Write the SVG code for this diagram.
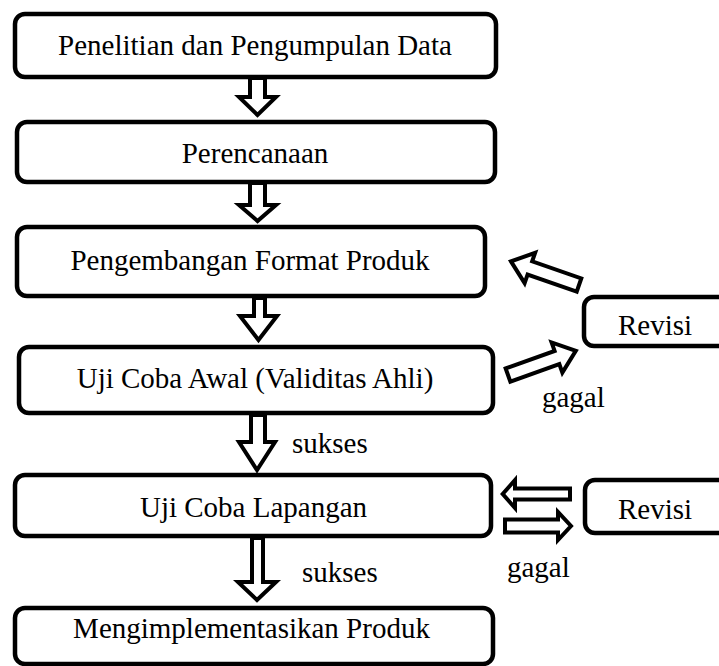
<svg xmlns="http://www.w3.org/2000/svg" width="719" height="666" viewBox="0 0 719 666">
<style>
.box{fill:#fff;stroke:#000;stroke-width:4.5}
.arr{fill:#fff;stroke:#000;stroke-width:4;stroke-linejoin:miter;stroke-miterlimit:10}
text{font-family:"Liberation Serif","Times New Roman",serif;font-size:29px;fill:#000}
.c{text-anchor:middle}
</style>
<rect width="719" height="666" fill="#fff"/>
<g id="connectors">
<path class="arr" d="M250,78 V97 H239 L257.5,115 L276,97 H265 V78 Z"/>
<path class="arr" d="M250,183 V205 H239 L257.5,221 L276,205 H265 V183 Z"/>
<path class="arr" d="M254,298 V316 H240 L258.5,340 L277,316 H265 V298 Z"/>
<path class="arr" d="M251,415 V442 H239 L257,470 L275,442 H265 V415 Z"/>
<path class="arr" d="M252,538 V582 H238 L257,600 L276,582 H263 V538 Z"/>
<path class="arr" transform="translate(579,285) rotate(199.15)" d="M0,-7 L52,-7 L52,-16 L72,0 L52,16 L52,7 L0,7 Z"/>
<path class="arr" transform="translate(508,375) rotate(-19.65)" d="M0,-7 L52,-7 L52,-16 L72,0 L52,16 L52,7 L0,7 Z"/>
<path class="arr" d="M570,488.5 L515,488.5 L515,480 L502.7,494 L515,508 L515,499.5 L570,499.5 Z"/>
<path class="arr" d="M505,519.5 L558,519.5 L558,512 L571,526 L558,540 L558,532.5 L505,532.5 Z"/>
<text x="292" y="453">sukses</text>
<text x="302" y="582">sukses</text>
<text x="542" y="407">gagal</text>
<text x="507" y="577">gagal</text>
</g>
<g id="n1"><rect class="box" x="15" y="14" width="481" height="63" rx="10"/><text class="c" x="255" y="55">Penelitian dan Pengumpulan Data</text></g>
<g id="n2"><rect class="box" x="17" y="122" width="478" height="60" rx="10"/><text class="c" x="255" y="163">Perencanaan</text></g>
<g id="n3"><rect class="box" x="17" y="227" width="468" height="69" rx="10"/><text class="c" x="250" y="270">Pengembangan Format Produk</text></g>
<g id="n4"><rect class="box" x="19" y="347" width="474" height="66" rx="10"/><text class="c" x="255" y="388">Uji Coba Awal (Validitas Ahli)</text></g>
<g id="n5"><rect class="box" x="15" y="475" width="476" height="61" rx="10"/><text class="c" x="253.5" y="517">Uji Coba Lapangan</text></g>
<g id="n6"><rect class="box" x="15" y="608" width="478" height="56" rx="10"/><text class="c" x="251.5" y="638">Mengimplementasikan Produk</text></g>
<g id="r1"><rect class="box" x="584" y="297" width="150" height="49" rx="10"/><text x="618" y="335">Revisi</text></g>
<g id="r2"><rect class="box" x="585" y="480" width="150" height="53" rx="10"/><text x="618" y="519">Revisi</text></g>
</svg>
